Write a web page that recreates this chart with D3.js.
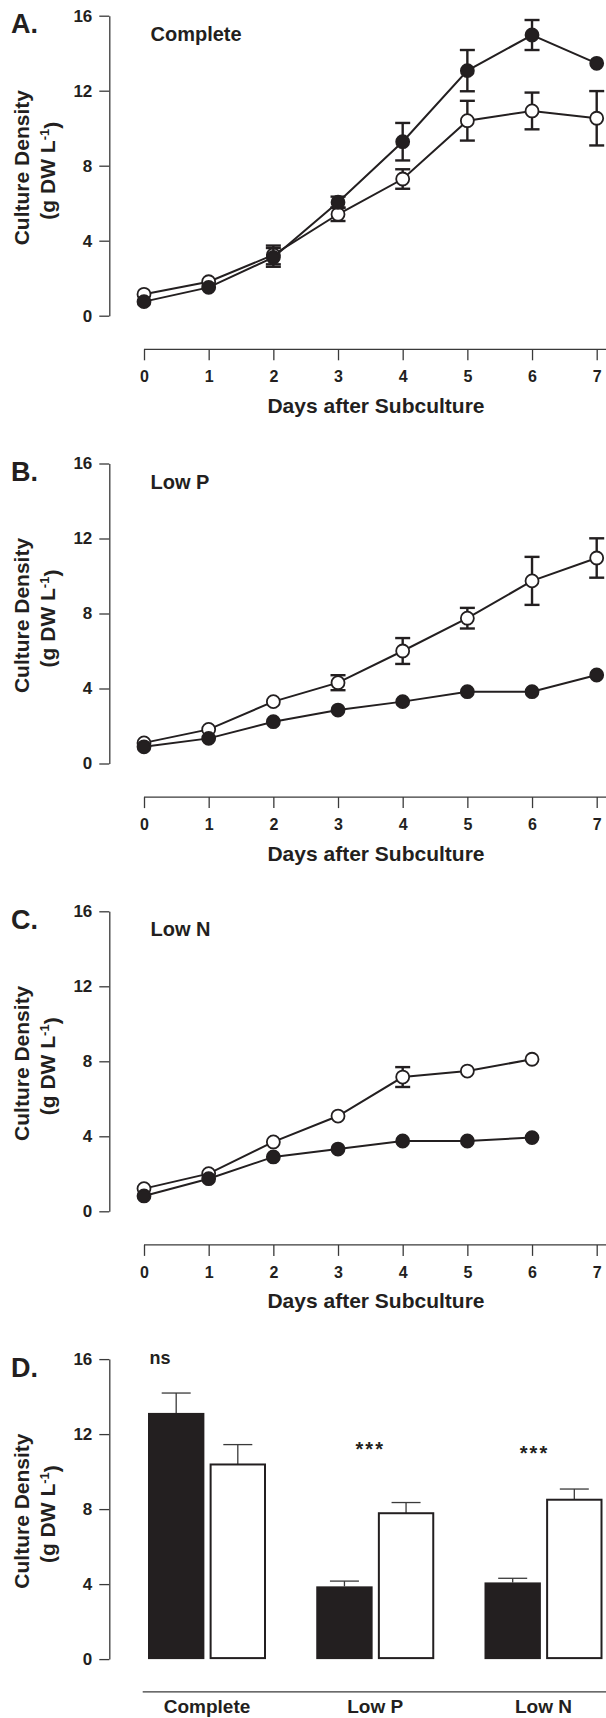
<!DOCTYPE html>
<html>
<head>
<meta charset="utf-8">
<script src="https://cdn.jsdelivr.net/npm/d3@7"></script>
<style>
  html, body { margin: 0; padding: 0; background: #fff; }
  svg { display: block; }
  text { font-family: "Liberation Sans", Arial, Helvetica, sans-serif; font-weight: bold; fill: #231f20; }
</style>
</head>
<body>
<svg id="chart" width="606" height="1718"></svg>
<script>
// values (g DW per L); 0 error = bar hidden behind the marker
const days = [0, 1, 2, 3, 4, 5, 6, 7];
const yTicks = [0, 4, 8, 12, 16];

const completeFilled    = [0.75, 1.51, 3.11, 6.05, 9.28, 13.07, 14.97, 13.46];
const completeFilledErr = [0, 0, 0.5, 0.3, 1.0, 1.1, 0.8, 0];
const completeOpen      = [1.14, 1.81, 3.24, 5.41, 7.29, 10.4, 10.92, 10.53];
const completeOpenErr   = [0, 0, 0.5, 0.36, 0.52, 1.06, 0.98, 1.45];

const lowPFilled    = [0.89, 1.34, 2.23, 2.85, 3.3, 3.83, 3.83, 4.72];
const lowPFilledErr = [0, 0, 0, 0, 0, 0, 0, 0];
const lowPOpen      = [1.1, 1.82, 3.3, 4.31, 6.0, 7.75, 9.74, 10.96];
const lowPOpenErr   = [0, 0, 0, 0.4, 0.69, 0.55, 1.28, 1.05];

const lowNFilled    = [0.82, 1.74, 2.9, 3.32, 3.75, 3.75, 3.93];
const lowNFilledErr = [0, 0, 0, 0, 0, 0, 0];
const lowNOpen      = [1.21, 2.01, 3.7, 5.08, 7.16, 7.48, 8.11];
const lowNOpenErr   = [0, 0, 0, 0, 0.53, 0, 0];

// panel D: day-5 densities
const groups      = ["Complete", "Low P", "Low N"];
const barFilled    = [13.13, 3.88, 4.09];
const barFilledErr = [1.06, 0.28, 0.22];
const barOpen      = [10.38, 7.78, 8.5];
const barOpenErr   = [1.06, 0.57, 0.57];
const sigLabels    = ["ns", "***", "***"];

const INK = "#231f20";
const AXIS = "#3a3a3a";
const svg = d3.select("#chart");

const panelTop = i => 15.7 + i * 447.8;
const panelH = 300;
const axisX = 109.3;

// shared y axis + titles
function drawFrame(top, letter) {
  const g = svg.append("g");
  const y = d3.scaleLinear().domain([0, 16]).range([top + panelH, top]);

  const ax = g.append("g")
    .attr("transform", `translate(${axisX},0)`)
    .call(d3.axisLeft(y).tickValues(yTicks).tickSize(10).tickSizeOuter(0).tickPadding(7));
  ax.selectAll("path, line").attr("stroke", AXIS).attr("stroke-width", 1.3);
  ax.selectAll("text").style("font-size", "17px").attr("fill", INK);

  g.append("text")
    .attr("x", 11).attr("y", top + 17.5)
    .style("font-size", "27px")
    .text(letter);

  const cy = top + panelH / 2 + 2;
  g.append("text")
    .attr("transform", `translate(29,${cy}) rotate(-90)`)
    .attr("text-anchor", "middle")
    .style("font-size", "21px")
    .text("Culture Density");
  const t2 = g.append("text")
    .attr("transform", `translate(55,${cy + 3}) rotate(-90)`)
    .attr("text-anchor", "middle")
    .style("font-size", "21px");
  t2.append("tspan").text("(g DW L");
  t2.append("tspan").attr("dy", "-0.45em").style("font-size", "13px").text("-1");
  t2.append("tspan").attr("dy", "0.45em").text(")");
  return { g, y };
}

function linePanel(i, letter, title, filled, filledErr, open, openErr) {
  const top = panelTop(i);
  const { g, y } = drawFrame(top, letter);
  const x = d3.scaleLinear().domain([0, 7]).range([144, 596.7]);
  const axisY = top + 333.6;

  const xa = g.append("g")
    .attr("transform", `translate(0,${axisY})`)
    .call(d3.axisBottom(x).tickValues(days).tickSize(11).tickPadding(10.5).tickFormat(d3.format("d")));
  xa.select(".domain").remove();
  xa.selectAll("line").attr("stroke", AXIS).attr("stroke-width", 1.3);
  xa.selectAll("text").style("font-size", "16px").attr("fill", INK);
  xa.append("line")
    .attr("x1", x(0)).attr("x2", 606)
    .attr("stroke", AXIS).attr("stroke-width", 1.3);

  g.append("text")
    .attr("x", 376).attr("y", axisY + 63.5)
    .attr("text-anchor", "middle")
    .style("font-size", "21px")
    .text("Days after Subculture");

  g.append("text")
    .attr("x", 150.5).attr("y", top + 25)
    .style("font-size", "20px")
    .text(title);

  const series = [
    { vals: open, err: openErr, fill: "#fff" },
    { vals: filled, err: filledErr, fill: INK }
  ];
  const line = d3.line().x((d, j) => x(days[j])).y(d => y(d));

  series.forEach(s => {
    const pts = s.vals.map((v, j) => ({ day: days[j], v, e: s.err[j] }));
    const eb = g.append("g").attr("stroke", INK).attr("stroke-width", 2.4);
    pts.filter(p => p.e > 0).forEach(p => {
      eb.append("line").attr("x1", x(p.day)).attr("x2", x(p.day))
        .attr("y1", y(p.v - p.e)).attr("y2", y(p.v + p.e));
      [p.v - p.e, p.v + p.e].forEach(v => {
        eb.append("line").attr("x1", x(p.day) - 7.5).attr("x2", x(p.day) + 7.5)
          .attr("y1", y(v)).attr("y2", y(v));
      });
    });
    g.append("path").datum(s.vals)
      .attr("d", line)
      .attr("fill", "none").attr("stroke", INK).attr("stroke-width", 2);
    g.selectAll(null).data(pts).enter().append("circle")
      .attr("cx", p => x(p.day)).attr("cy", p => y(p.v))
      .attr("r", 6.5)
      .attr("fill", s.fill).attr("stroke", INK).attr("stroke-width", 1.8);
  });
}

linePanel(0, "A.", "Complete", completeFilled, completeFilledErr, completeOpen, completeOpenErr);
linePanel(1, "B.", "Low P", lowPFilled, lowPFilledErr, lowPOpen, lowPOpenErr);
linePanel(2, "C.", "Low N", lowNFilled, lowNFilledErr, lowNOpen, lowNOpenErr);

// panel D: grouped bars
(function () {
  const top = panelTop(3);
  const { g, y } = drawFrame(top, "D.");
  const xg = d3.scalePoint().domain(groups).range([207, 543.5]);
  const xs = d3.scaleBand().domain(["filled", "open"]).range([-59, 59]).paddingInner(0.085);
  const bw = xs.bandwidth();
  const baseY = top + panelH + 32.7;

  const bars = groups.flatMap((c, j) => [
    { c, k: "filled", v: barFilled[j], e: barFilledErr[j] },
    { c, k: "open", v: barOpen[j], e: barOpenErr[j] }
  ]);

  // error bars (upper only)
  const eb = g.append("g").attr("stroke", AXIS).attr("stroke-width", 1.3);
  bars.forEach(b => {
    const cx = xg(b.c) + xs(b.k) + bw / 2;
    eb.append("line").attr("x1", cx).attr("x2", cx).attr("y1", y(b.v)).attr("y2", y(b.v + b.e));
    eb.append("line").attr("x1", cx - 14.5).attr("x2", cx + 14.5).attr("y1", y(b.v + b.e)).attr("y2", y(b.v + b.e));
  });

  g.selectAll(null).data(bars).enter().append("rect")
    .attr("x", b => xg(b.c) + xs(b.k) + (b.k === "open" ? 1 : 0))
    .attr("y", b => y(b.v))
    .attr("width", b => bw - (b.k === "open" ? 2 : 0))
    .attr("height", b => y(0) - y(b.v) - (b.k === "open" ? 1 : 0))
    .attr("fill", b => b.k === "filled" ? INK : "#fff")
    .attr("stroke", b => b.k === "filled" ? "none" : INK)
    .attr("stroke-width", 2);

  // significance marks
  const sigDx = [-47, -5, -9];
  const sigY = [top + 5.3, top + 97, top + 101.3];
  sigLabels.forEach((s, j) => {
    g.append("text")
      .attr("x", xg(groups[j]) + sigDx[j]).attr("y", sigY[j])
      .attr("text-anchor", "middle")
      .style("font-size", s === "ns" ? "18px" : "20px")
      .style("letter-spacing", s === "ns" ? "0px" : "2px")
      .text(s);
  });

  g.append("line")
    .attr("x1", 142.7).attr("x2", 606)
    .attr("y1", baseY).attr("y2", baseY)
    .attr("stroke", AXIS).attr("stroke-width", 1.3);
  groups.forEach(c => {
    g.append("text")
      .attr("x", xg(c)).attr("y", baseY + 21)
      .attr("text-anchor", "middle")
      .style("font-size", "19px")
      .text(c);
  });
})();
</script>
</body>
</html>
